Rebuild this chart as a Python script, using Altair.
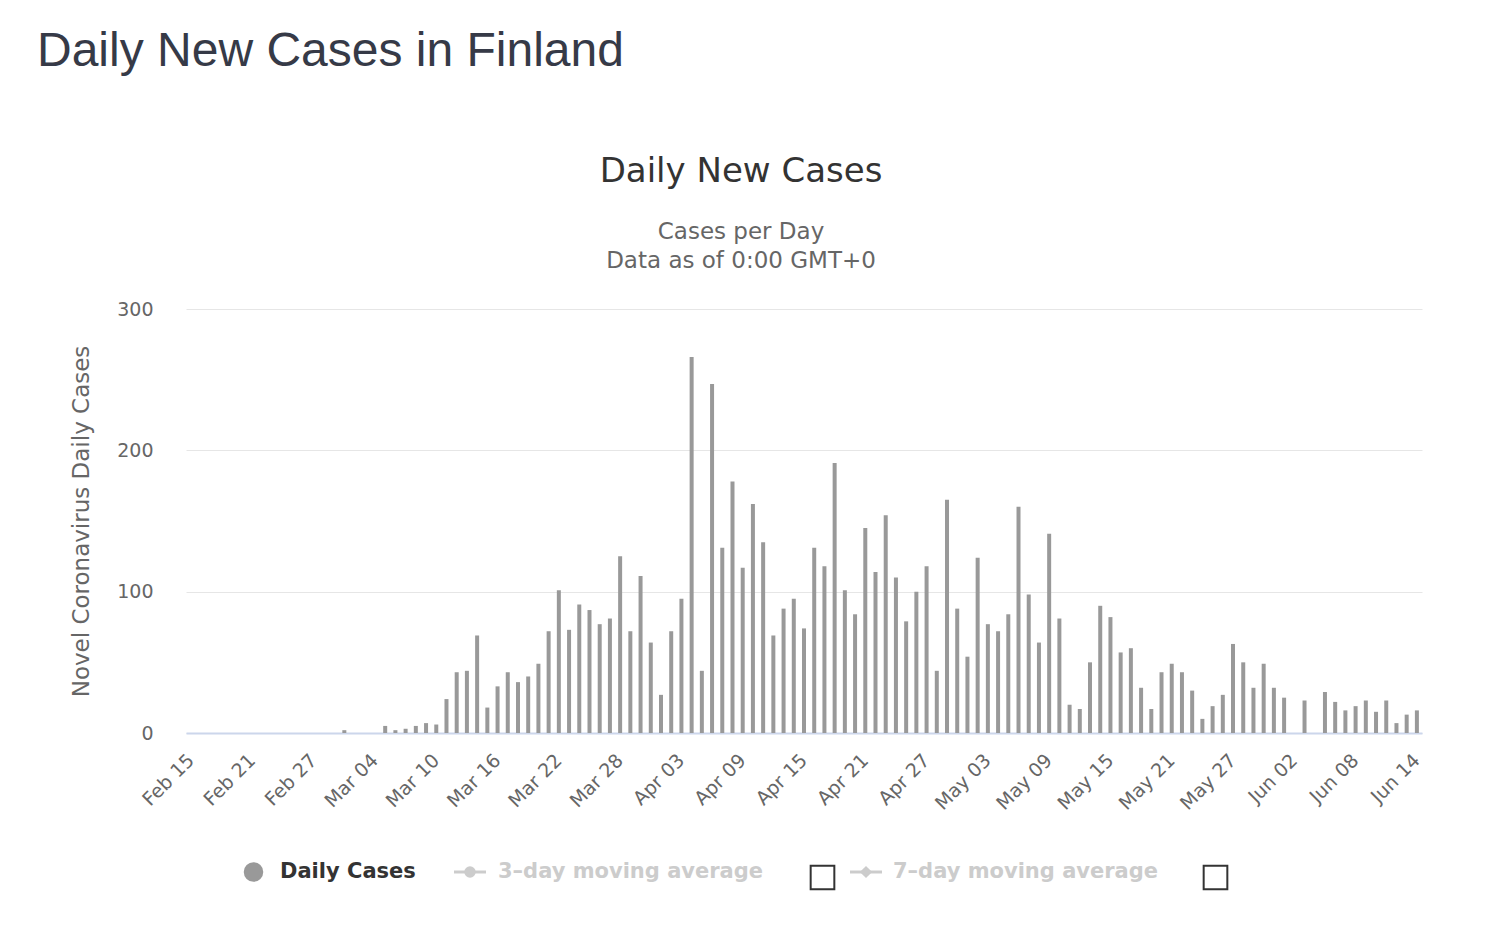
import altair as alt
import pandas as pd

# ---- data ----
feb = [0] * 15  # Feb 15 - Feb 29
mar = [2, 0, 0, 0, 5, 2, 3, 5, 7, 6, 24, 43, 44, 69, 18, 33, 43, 36, 40, 49,
       72, 101, 73, 91, 87, 77, 81, 125, 72, 111, 64]
apr = [27, 72, 95, 266, 44, 247, 131, 178, 117, 162, 135, 69, 88, 95, 74,
       131, 118, 191, 101, 84, 145, 114, 154, 110, 79, 100, 118, 44, 165, 88]
may = [54, 124, 77, 72, 84, 160, 98, 64, 141, 81, 20, 17, 50, 90, 82, 57, 60,
       32, 17, 43, 49, 43, 30, 10, 19, 27, 63, 50, 32, 49, 32]
jun = [25, 0, 23, 0, 29, 22, 16, 19, 23, 15, 23, 7, 13, 16]

values = feb + mar + apr + may + jun
dates = [d.strftime("%b %d") for d in pd.date_range("2020-02-15", "2020-06-14")]
tick_labels = dates[::6]
y_ticks = [0, 100, 200, 300]

df = pd.DataFrame({"date": dates, "cases": values})

FONT = "DejaVu Sans"
W, H = 1236, 424

bars = alt.Chart(df).mark_bar(size=4, color="#999999").encode(
    x=alt.X("date:O", sort=dates,
            scale=alt.Scale(paddingInner=0, paddingOuter=0),
            axis=alt.Axis(values=tick_labels, title=None, labelAngle=-45,
                          labelAlign="right", labelBaseline="middle",
                          labelPadding=24, ticks=False, domainColor="#ccd6eb",
                          domainWidth=2, labelColor="#666666", labelFontSize=19,
                          labelFont=FONT, grid=False)),
    y=alt.Y("cases:Q", scale=alt.Scale(domain=[0, 300], nice=False),
            axis=alt.Axis(values=y_ticks, title="Novel Coronavirus Daily Cases",
                          titleFontSize=23, titleFontWeight="normal",
                          titleColor="#666666", titleFont=FONT, titlePadding=23,
                          labelColor="#666666", labelFontSize=19, labelFont=FONT,
                          labelPadding=33, ticks=False, domain=False,
                          gridColor="#e6e6e6", gridWidth=1)),
)

one = pd.DataFrame({"k": [0]})


def text(s, x, y, size, color, align="left", weight="normal", font=FONT, baseline="alphabetic"):
    return alt.Chart(one).mark_text(text=s, align=align, baseline=baseline,
                                    fontSize=size, color=color, fontWeight=weight,
                                    font=font).encode(x=alt.value(x), y=alt.value(y))


main_title = text("Daily New Cases in Finland", -149, -243, 48, "#363a47",
                  font="Liberation Sans")
title = text("Daily New Cases", 555, -127, 34, "#333333", align="center")
sub1 = text("Cases per Day", 555, -70, 23, "#666666", align="center")
sub2 = text("Data as of 0:00 GMT+0", 555, -41, 23, "#666666", align="center")

LY = 563
leg_dot = alt.Chart(one).mark_circle(size=380, color="#999999", opacity=1).encode(
    x=alt.value(67.5), y=alt.value(LY))
leg_t1 = text("Daily Cases", 94, LY, 21, "#333333", weight="bold", baseline="middle")

leg_l2 = alt.Chart(one).mark_rule(color="#cccccc", strokeWidth=3).encode(
    x=alt.value(268), x2=alt.value(300), y=alt.value(LY))
leg_p2 = alt.Chart(one).mark_circle(size=130, color="#cccccc", opacity=1).encode(
    x=alt.value(284), y=alt.value(LY))
leg_t2 = text("3\u2013day moving average", 312, LY, 21, "#cccccc", weight="bold", baseline="middle")
box1 = alt.Chart(one).mark_point(shape="square", size=560, filled=False,
                                 color="#333333", strokeWidth=2, opacity=1).encode(
    x=alt.value(636.5), y=alt.value(LY + 5.5))

leg_l3 = alt.Chart(one).mark_rule(color="#cccccc", strokeWidth=3).encode(
    x=alt.value(664), x2=alt.value(696), y=alt.value(LY))
leg_p3 = alt.Chart(one).mark_point(shape="diamond", size=150, filled=True,
                                   color="#cccccc", opacity=1).encode(
    x=alt.value(680), y=alt.value(LY))
leg_t3 = text("7\u2013day moving average", 707, LY, 21, "#cccccc", weight="bold", baseline="middle")
box2 = alt.Chart(one).mark_point(shape="square", size=560, filled=False,
                                 color="#333333", strokeWidth=2, opacity=1).encode(
    x=alt.value(1029.5), y=alt.value(LY + 5.5))

chart = alt.layer(
    bars, main_title, title, sub1, sub2,
    leg_dot, leg_t1, leg_l2, leg_p2, leg_t2, box1, leg_l3, leg_p3, leg_t3, box2
).properties(
    width=W, height=H,
    autosize=alt.AutoSizeParams(type="none"),
    padding={"left": 178, "top": 301, "right": 50, "bottom": 180},
    background="white",
).configure(font=FONT, view=alt.ViewConfig(stroke=None))

chart.save("out.html", embed_options={"renderer": "svg", "actions": False})
